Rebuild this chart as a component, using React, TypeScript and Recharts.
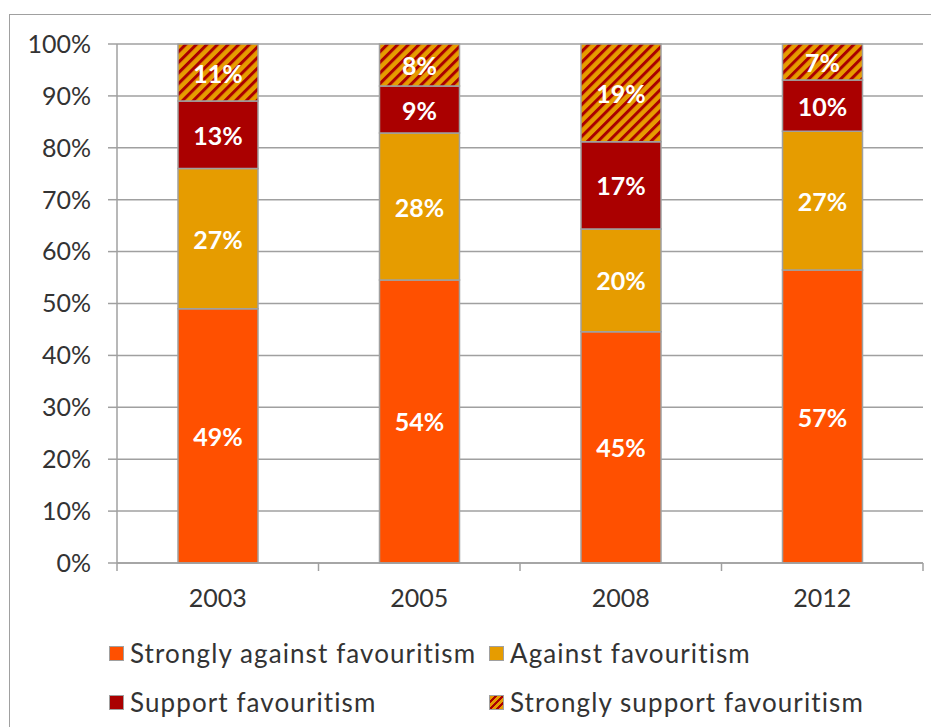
import React from 'react';
import { Bar, BarChart, CartesianGrid, XAxis, YAxis } from 'recharts';

const years = ['2003', '2005', '2008', '2012'];
const stronglyAgainst = [49, 54, 45, 57];
const against = [27, 28, 20, 27];
const support = [13, 9, 17, 10];
const stronglySupport = [11, 8, 19, 7];
const yTicks = [0, 0.1, 0.2, 0.3, 0.4, 0.5, 0.6, 0.7, 0.8, 0.9, 1];

const ORANGE = '#FF5000';
const GOLD = '#E69C00';
const RED = '#AA0000';
const EDGE = '#A0A0A0';
const FONT = 'Lato, "Open Sans", sans-serif';

const W = 931;
const H = 610;
const M = { top: 36, right: 16, left: 0, bottom: 0 };
const Y_W = 109;
const BAND = (W - M.right - Y_W) / years.length;

const data = years.map((year, i) => ({
  year,
  sa: stronglyAgainst[i],
  a: against[i],
  s: support[i],
  ss: stronglySupport[i],
}));

const series = [
  { key: 'sa', name: 'Strongly against favouritism', fill: ORANGE, values: stronglyAgainst },
  { key: 'a', name: 'Against favouritism', fill: GOLD, values: against },
  { key: 's', name: 'Support favouritism', fill: RED, values: support },
  { key: 'ss', name: 'Strongly support favouritism', fill: 'url(#stripes)', values: stronglySupport },
];

// labels show the raw percentages, not the expanded stack values
const makeLabel = (values: number[]) => (props: any) => {
  const { x, y, width, height, index } = props;
  return (
    <text
      x={x + width / 2}
      y={y + height / 2}
      textAnchor="middle"
      dominantBaseline="central"
      fill="#fff"
      fontWeight="bold"
      fontSize={25}
      fontFamily={FONT}
    >
      {values[index]}%
    </text>
  );
};

const YearTick = (props: any) => {
  const { x, y, payload, index } = props;
  return (
    <g>
      <line x1={x - BAND / 2} x2={x - BAND / 2} y1={y} y2={y + 8} stroke={EDGE} strokeWidth={1.5} />
      {index === years.length - 1 && (
        <line x1={x + BAND / 2} x2={x + BAND / 2} y1={y} y2={y + 8} stroke={EDGE} strokeWidth={1.5} />
      )}
      <text x={x} y={y + 34} textAnchor="middle" dominantBaseline="central" fill="#333" fontSize={25} fontFamily={FONT}>
        {payload.value}
      </text>
    </g>
  );
};

const legendRows = [
  [series[0], series[1]],
  [series[2], series[3]],
];

const markerStyle = (fill: string): React.CSSProperties => ({
  width: 13,
  height: 13,
  border: `1.5px solid ${EDGE}`,
  background:
    fill === 'url(#stripes)'
      ? `repeating-linear-gradient(-45deg, ${GOLD} 0 3px, ${RED} 3px 5px)`
      : fill,
  marginRight: 6,
  flexShrink: 0,
});

const App = () => {
  return (
    <div style={{ position: 'relative', width: W, height: 719, fontFamily: FONT, background: '#fff' }}>
      <div
        style={{
          position: 'absolute',
          left: 1,
          top: 6,
          right: 0,
          bottom: 0,
          borderLeft: `1.5px solid ${EDGE}`,
          borderTop: `1.5px solid ${EDGE}`,
        }}
      />
      <div style={{ position: 'absolute', left: 0, top: 0 }}>
        <BarChart width={W} height={H} data={data} margin={M} stackOffset="expand" barSize={80}>
          <defs>
            <pattern id="stripes" patternUnits="userSpaceOnUse" width={7.5} height={7.5} patternTransform="rotate(45)">
              <rect x={0} y={0} width={7.5} height={7.5} fill={GOLD} />
              <rect x={0} y={0} width={3} height={7.5} fill={RED} />
            </pattern>
          </defs>
          <CartesianGrid vertical={false} stroke={EDGE} strokeWidth={1.5} />
          <XAxis
            dataKey="year"
            height={55}
            axisLine={{ stroke: EDGE, strokeWidth: 1.5 }}
            tickLine={false}
            tickSize={0}
            tickMargin={0}
            tick={<YearTick />}
            interval={0}
          />
          <YAxis
            width={Y_W}
            domain={[0, 1]}
            ticks={yTicks}
            tickFormatter={(v: number) => `${Math.round(v * 100)}%`}
            axisLine={{ stroke: EDGE, strokeWidth: 1.5 }}
            tickLine={{ stroke: EDGE, strokeWidth: 1.5 }}
            tickSize={9}
            tickMargin={17}
            tick={{ fill: '#333', fontSize: 25, fontFamily: FONT }}
            interval={0}
          />
          {series.map((s) => (
            <Bar
              key={s.key}
              dataKey={s.key}
              name={s.name}
              stackId="one"
              fill={s.fill}
              stroke={EDGE}
              strokeWidth={1.5}
              isAnimationActive={false}
              label={makeLabel(s.values)}
            />
          ))}
        </BarChart>
      </div>
      {legendRows.map((row, r) => (
        <div
          key={r}
          style={{
            position: 'absolute',
            left: 101,
            top: r === 0 ? 630 : 679,
            display: 'flex',
            alignItems: 'center',
            height: 30,
          }}
        >
          {row.map((s, c) => (
            <div
              key={s.key}
              style={{
                display: 'flex',
                alignItems: 'center',
                width: c === 0 ? 380 : 'auto',
                fontSize: 26,
                letterSpacing: 1.1,
                color: '#333',
                whiteSpace: 'nowrap',
              }}
            >
              <div style={markerStyle(s.fill)} />
              <span>{s.name}</span>
            </div>
          ))}
        </div>
      ))}
    </div>
  );
};

export default App;
